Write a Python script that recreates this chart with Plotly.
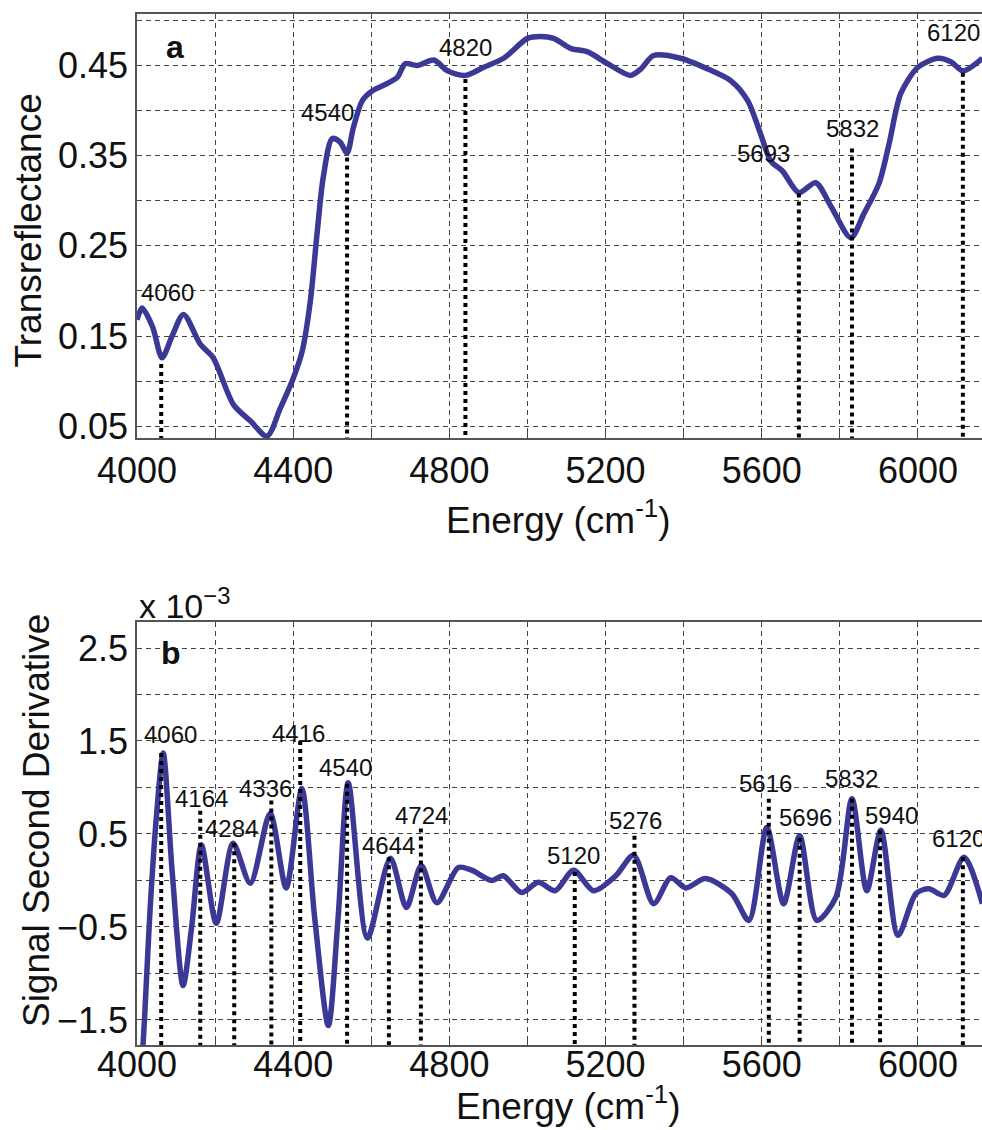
import plotly.graph_objects as go

# ---------------- data ----------------
# Panel a: transreflectance spectrum
energy_a = [4000, 4013, 4040, 4064, 4090, 4119, 4162, 4195, 4247, 4290, 4333, 4367, 4400,
            4423, 4444, 4461, 4477, 4500, 4520, 4538, 4554, 4577, 4603, 4641, 4667, 4687,
            4717, 4760, 4795, 4841, 4888, 4939, 5000, 5033, 5067, 5110, 5154, 5205, 5264,
            5290, 5323, 5392, 5462, 5521, 5564, 5597, 5623, 5653, 5695, 5738, 5777, 5828,
            5862, 5900, 5926, 5956, 6000, 6051, 6085, 6115, 6165]
trans_a = [0.168, 0.181, 0.160, 0.126, 0.150, 0.174, 0.141, 0.126, 0.074, 0.056, 0.039,
           0.070, 0.103, 0.133, 0.189, 0.263, 0.326, 0.369, 0.365, 0.353, 0.381, 0.411,
           0.422, 0.430, 0.437, 0.452, 0.450, 0.456, 0.444, 0.439, 0.448, 0.458, 0.480,
           0.482, 0.480, 0.469, 0.465, 0.452, 0.439, 0.446, 0.461, 0.458, 0.446, 0.433,
           0.411, 0.374, 0.344, 0.333, 0.309, 0.320, 0.294, 0.259, 0.286, 0.319, 0.363,
           0.419, 0.448, 0.458, 0.454, 0.444, 0.458]
peak_labels_a = ["4060", "4540", "4820", "5693", "5832", "6120"]
peak_pos_a = [4062, 4538, 4841, 5695, 5831, 6115]
peak_top_a = [0.119, 0.348, 0.435, 0.308, 0.358, 0.442]
label_x_a = [4079, 4487, 4841, 5605, 5833, 6090]
label_y_a = [0.198, 0.398, 0.470, 0.352, 0.380, 0.486]

# Panel b: second derivative (units of 1e-3)
energy_b = [4000, 4012, 4020, 4033, 4050, 4067, 4090, 4118, 4140, 4165, 4203, 4246, 4290,
            4341, 4382, 4422, 4455, 4490, 4515, 4541, 4590, 4649, 4690, 4728, 4768, 4823,
            4857, 4908, 4938, 4985, 5028, 5071, 5118, 5169, 5226, 5272, 5323, 5367, 5405,
            5456, 5523, 5567, 5613, 5656, 5697, 5741, 5790, 5831, 5869, 5905, 5949, 5995,
            6028, 6067, 6118, 6165]
deriv_b = [-2.6, -2.0, -1.43, -0.35, 0.70, 1.37, 0.10, -1.13, -0.50, 0.38, -0.46, 0.40,
           -0.03, 0.72, -0.08, 0.99, -0.40, -1.56, -0.40, 1.05, -0.62, 0.24, -0.29, 0.16,
           -0.24, 0.14, 0.11, 0.00, 0.05, -0.13, -0.02, -0.11, 0.11, -0.11, 0.05, 0.27,
           -0.25, 0.03, -0.08, 0.02, -0.14, -0.43, 0.57, -0.25, 0.48, -0.43, -0.18, 0.88,
           -0.11, 0.54, -0.59, -0.14, -0.09, -0.16, 0.25, -0.25]
peak_labels_b = ["4060", "4164", "4284", "4336", "4416", "4540", "4644", "4724", "5120",
                 "5276", "5616", "5696", "5832", "5940", "6120"]
peak_pos_b = [4062, 4162, 4249, 4344, 4418, 4538, 4645, 4727, 5121, 5274, 5618, 5697,
              5831, 5903, 6115]
peak_top_b = [1.37, 0.75, 0.40, 0.86, 1.50, 1.04, 0.25, 0.56, 0.09, 0.48, 0.88, 0.46,
              0.88, 0.54, 0.25]
label_x_b = [4087, 4164, 4241, 4328, 4413, 4533, 4644, 4728, 5118, 5277, 5610, 5713,
             5831, 5931, 6105]
label_y_b = [1.57, 0.88, 0.56, 0.99, 1.58, 1.22, 0.38, 0.70, 0.27, 0.65, 1.04, 0.68,
             1.10, 0.70, 0.45]

x_ticks = [4000, 4200, 4400, 4600, 4800, 5000, 5200, 5400, 5600, 5800, 6000]
x_ticktext = ["4000", "", "4400", "", "4800", "", "5200", "", "5600", "", "6000"]
ya_ticks = [0.05, 0.10, 0.15, 0.20, 0.25, 0.30, 0.35, 0.40, 0.45, 0.50]
ya_ticktext = ["0.05", "", "0.15", "", "0.25", "", "0.35", "", "0.45", ""]
yb_ticks = [-1.5, -1.0, -0.5, 0.0, 0.5, 1.0, 1.5, 2.0, 2.5]
yb_ticktext = ["\u22121.5", "", "\u22120.5", "", "0.5", "", "1.5", "", "2.5"]

# ---------------- styling ----------------
FONT = "Liberation Sans, Arial, Helvetica, sans-serif"
CURVE = "#3b3896"
X_RANGE = [4000, 6164]
YA_RANGE = [0.037, 0.507]
YB_RANGE = [-1.77, 2.78]

fig = go.Figure()

fig.add_trace(go.Scatter(x=energy_a, y=trans_a, mode="lines",
                         line=dict(color=CURVE, width=5.5, shape="spline", smoothing=0.8),
                         xaxis="x", yaxis="y", hoverinfo="skip"))
xs, ys = [], []
for p, t in zip(peak_pos_a, peak_top_a):
    xs += [p, p, None]
    ys += [t, YA_RANGE[0], None]
fig.add_trace(go.Scatter(x=xs, y=ys, mode="lines", line=dict(color="black", width=4, dash="dot"),
                         xaxis="x", yaxis="y", hoverinfo="skip"))

fig.add_trace(go.Scatter(x=energy_b, y=deriv_b, mode="lines",
                         line=dict(color=CURVE, width=5.5, shape="spline", smoothing=0.8),
                         xaxis="x2", yaxis="y2", hoverinfo="skip"))
xs, ys = [], []
for p, t in zip(peak_pos_b, peak_top_b):
    xs += [p, p, None]
    ys += [t, YB_RANGE[0], None]
fig.add_trace(go.Scatter(x=xs, y=ys, mode="lines", line=dict(color="black", width=4, dash="dot"),
                         xaxis="x2", yaxis="y2", hoverinfo="skip"))

LBL = dict(size=24, color="#111", family=FONT)
annotations = []
for lab, x, y in zip(peak_labels_a, label_x_a, label_y_a):
    annotations.append(dict(x=x, y=y, xref="x", yref="y", text=lab, showarrow=False,
                            xanchor="center", yanchor="middle", font=LBL))
for lab, x, y in zip(peak_labels_b, label_x_b, label_y_b):
    annotations.append(dict(x=x, y=y, xref="x2", yref="y2", text=lab, showarrow=False,
                            xanchor="center", yanchor="middle", font=LBL))

TITLE = dict(size=37, color="#111", family=FONT)
annotations += [
    dict(x=4097, y=0.47, xref="x", yref="y", text="<b>a</b>", showarrow=False,
         xanchor="center", yanchor="middle", font=dict(size=32, color="#111", family=FONT)),
    dict(x=4087, y=2.45, xref="x2", yref="y2", text="<b>b</b>", showarrow=False,
         xanchor="center", yanchor="middle", font=dict(size=32, color="#111", family=FONT)),
    dict(x=0.5, y=0.510, xref="paper", yref="paper", xshift=-1, text="Energy (cm<sup>-1</sup>)",
         showarrow=False, xanchor="center", yanchor="middle", font=TITLE),
    dict(x=0.5, y=-0.057, xref="paper", yref="paper", xshift=9, text="Energy (cm<sup>-1</sup>)",
         showarrow=False, xanchor="center", yanchor="middle", font=TITLE),
    dict(x=-0.1290, y=0.787, xref="paper", yref="paper", text="Transreflectance",
         textangle=-90, showarrow=False, xanchor="center", yanchor="middle", font=TITLE),
    dict(x=-0.1195, y=0.2164, xref="paper", yref="paper", text="Signal Second Derivative",
         textangle=-90, showarrow=False, xanchor="center", yanchor="middle", font=TITLE),
    dict(x=0, y=0.427, xref="paper", yref="paper", text="x 10<sup>\u22123</sup>", xanchor="left",
         yanchor="middle", showarrow=False, font=dict(size=34, color="#111", family=FONT)),
]

axis_common = dict(showline=True, linecolor="#555", linewidth=1.5, showgrid=True,
                   gridcolor="#444", gridwidth=1, griddash="5px,4px", ticks="inside",
                   ticklen=5, tickcolor="#444", zeroline=False,
                   tickfont=dict(size=36, color="#111", family=FONT))

fig.update_layout(
    width=982, height=1130,
    margin=dict(l=137, r=0, t=10, b=85),
    paper_bgcolor="white", plot_bgcolor="white",
    showlegend=False,
    annotations=annotations,
    xaxis=dict(domain=[0, 1], anchor="y", range=X_RANGE, tickmode="array", tickvals=x_ticks,
               ticktext=x_ticktext, mirror="ticks", **axis_common),
    yaxis=dict(domain=[0.5865, 0.9961], anchor="x", range=YA_RANGE, tickmode="array",
               tickvals=ya_ticks, ticktext=ya_ticktext, mirror=False, **axis_common),
    xaxis2=dict(domain=[0, 1], anchor="y2", range=X_RANGE, tickmode="array", tickvals=x_ticks,
                ticktext=x_ticktext, mirror="ticks", ticklabelstandoff=-13, **axis_common),
    yaxis2=dict(domain=[0, 0.4087], anchor="x2", range=YB_RANGE, tickmode="array",
                tickvals=yb_ticks, ticktext=yb_ticktext, mirror=False, **axis_common),
)

fig.write_html("out.html", config={"displayModeBar": False},
               post_script="document.body.style.margin='0';document.body.style.overflow='hidden';")
